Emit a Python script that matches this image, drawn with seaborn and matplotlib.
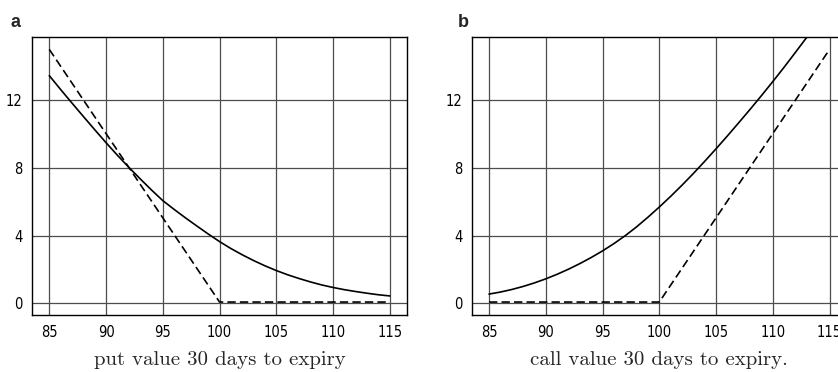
import matplotlib
matplotlib.use("Agg")
import matplotlib.pyplot as plt
import seaborn as sns

# stock prices on the x axis
prices = list(range(85, 116))

# option values 30 days before expiry
put_value = [13.45, 12.63, 11.83, 11.04, 10.26, 9.49, 8.75, 8.04, 7.36, 6.70,
             6.07, 5.55, 5.05, 4.57, 4.10, 3.65, 3.24, 2.87, 2.53, 2.22,
             1.94, 1.69, 1.47, 1.27, 1.09, 0.94, 0.81, 0.70, 0.60, 0.51, 0.44]
call_value = [0.55, 0.67, 0.82, 1.00, 1.21, 1.45, 1.72, 2.02, 2.35, 2.71,
              3.10, 3.53, 4.00, 4.52, 5.09, 5.69, 6.32, 6.98, 7.67, 8.39,
              9.13, 9.89, 10.67, 11.46, 12.27, 13.10, 13.95, 14.83, 15.72, 16.62, 17.52]

# payoff at expiry (dashed)
payoff_x = [85, 100, 115]
put_payoff = [15, 0.08, 0.08]
call_payoff = [0.08, 0.08, 15]

xticks = [85, 90, 95, 100, 105, 110, 115]
yticks = [0, 4, 8, 12]
titles = ["put value 30 days to expiry", "call value 30 days to expiry."]
panel_tags = ["a", "b"]

sns.set_style("white")
plt.rcParams['font.family'] = ['DejaVu Sans']
plt.rcParams['font.stretch'] = 'condensed'  # narrow tick digits like the original

fig = plt.figure(figsize=(8.38, 3.72), dpi=100)
ax1 = fig.add_axes([0.0385, 0.153, 0.447, 0.747])
ax2 = fig.add_axes([472 / 838, 0.153, 0.447, 0.747])  # runs off the right edge, as in the reference

panels = [(ax1, put_value, put_payoff), (ax2, call_value, call_payoff)]

for i, (ax, value, payoff) in enumerate(panels):
    sns.lineplot(x=prices, y=value, ax=ax, color="black", lw=1.2)
    sns.lineplot(x=payoff_x, y=payoff, ax=ax, color="black", lw=1.2)
    ax.lines[-1].set_dashes((5, 2.5))
    ax.set_xlim(83.5, 116.5)
    ax.set_ylim(-0.69, 15.72)
    ax.set_xticks(xticks)
    ax.set_yticks(yticks)
    ax.grid(True, color="0.3", lw=0.9)
    ax.set_axisbelow(True)
    ax.tick_params(length=0, labelsize=10.5, colors="black")
    ax.tick_params(axis="x", pad=7)
    ax.tick_params(axis="y", pad=7)
    for s in ax.spines.values():
        s.set_color("black")
        s.set_linewidth(1.0)
    ax.set_xlabel(titles[i], family="cmr10", fontsize=15, labelpad=8)

fig.text(0.012, 0.927, panel_tags[0], fontsize=13, fontweight="bold", family="Liberation Sans")
fig.text(0.5465, 0.927, panel_tags[1], fontsize=13, fontweight="bold", family="Liberation Sans")

fig.savefig("out.png", dpi=100)
